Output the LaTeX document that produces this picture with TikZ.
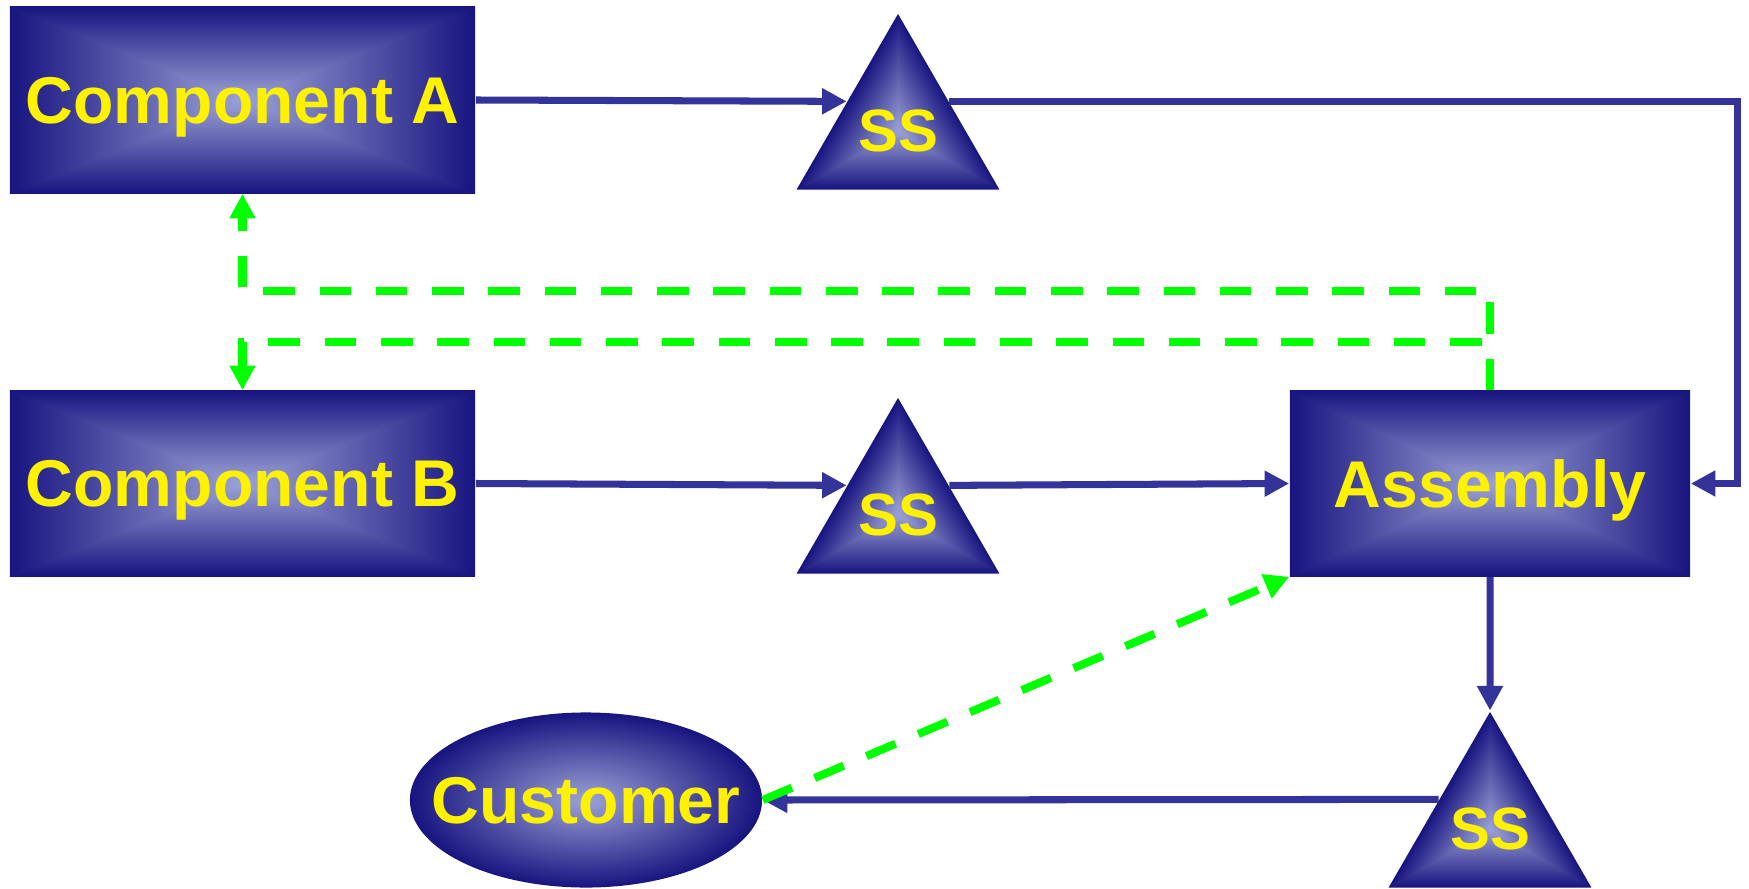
\documentclass[tikz,border=0pt]{standalone}
\usepackage{fontspec}
\setmainfont{Liberation Sans}
\usepackage{xcolor}
\usepackage{tikz}
\usetikzlibrary{positioning,arrows.meta,shapes.geometric}

\definecolor{lineblue}{RGB}{51,51,153}

\pgfdeclarefunctionalshading{rectglow}{\pgfpoint{-50bp}{-50bp}}{\pgfpoint{50bp}{50bp}}{}{
	abs 25 div exch abs 25 div
	2 copy lt {exch} if pop
	dup 1 gt {pop 1} if
	dup dup
	-0.337 mul 0.839 add 3 1 roll
	-0.557 mul 0.635 add 3 1 roll
	-0.514 mul 0.608 add 3 1 roll
}
\pgfdeclarefunctionalshading{ovalglow}{\pgfpoint{-50bp}{-50bp}}{\pgfpoint{50bp}{50bp}}{}{
	25 div dup mul exch 25 div dup mul add sqrt
	dup 1 gt {pop 1} if
	dup dup
	-0.337 mul 0.839 add 3 1 roll
	-0.557 mul 0.635 add 3 1 roll
	-0.514 mul 0.608 add 3 1 roll
}
\pgfdeclarefunctionalshading{triglow}{\pgfpoint{-50bp}{-50bp}}{\pgfpoint{50bp}{50bp}}{}{
	25 add 50 div exch 25 add 50 div
	2 copy 2 mul exch sub 2 div
	3 1 roll
	2 copy 2 mul add 2 exch sub 2 div
	exch pop
	2 copy gt {exch} if pop
	2 copy gt {exch} if pop
	3 mul 1 exch sub
	dup 1 gt {pop 1} if
	dup 0 lt {pop 0} if
	dup dup
	-0.337 mul 0.839 add 3 1 roll
	-0.557 mul 0.635 add 3 1 roll
	-0.514 mul 0.608 add 3 1 roll
}

\begin{document}
\begin{tikzpicture}[x=0.01cm,y=-0.01cm,
		label text/.style={text=yellow, text depth=0pt, font=\bfseries\fontsize{18.8}{20}\selectfont},
		box/.style={rectangle, shading=rectglow, label text, inner sep=0pt},
		stock/.style={regular polygon, regular polygon sides=3, minimum size=2.34cm, inner sep=0pt, shading=triglow, text=yellow, text depth=0pt, font=\bfseries\fontsize{17}{18}\selectfont},
		flow/.style={draw=lineblue, line width=2pt, -{Triangle[length=7pt,width=7pt]}},
		feedback/.style={draw=green, line width=2.3pt, dash pattern=on 9pt off 7pt, -{Triangle[length=7pt,width=7pt]}}]
			\useasboundingbox (0,0) rectangle (1749,888);
			
			\node[box, minimum width=4.65cm, minimum height=1.86cm] (compA) at (242.5,100) {Component A};
			\node[box, minimum width=4.65cm, minimum height=1.85cm] (compB) at (242.5,483.5) {Component B};
			\node[box, minimum width=4cm, minimum height=1.85cm] (asm) at (1490,483.5) {Assembly};
			\node[ellipse, shading=ovalglow, label text, inner xsep=-0.3cm, inner ysep=0pt, minimum width=3.52cm, minimum height=1.75cm] (cust) at (586,800) {Customer};
			
			\node[stock] (ss1) at (898,131) {SS};
			\node[stock] (ss2) at (898,515) {SS};
			\node[stock] (ss3) at (1490,829) {SS};
			
			\draw[flow] (compA.east) -- (ss1.side 1);
			\draw[flow] (ss1.side 3) -| ([xshift=0.47cm]asm.east) -- (asm.east);
			\draw[flow] (compB.east) -- (ss2.side 1);
			\draw[flow] (ss2.side 3) -- (asm.west);
			\draw[flow] (asm.south) -- (ss3.north);
			\draw[flow] (ss3.side 1) -- (cust.east);
			
			\draw[feedback] (asm.north) -- ++(0,-99) -| (compA.south);
			\draw[feedback] (asm.north) -- ++(0,-48) -| (compB.north);
			\draw[feedback] (cust.east) -- (asm.south west);
		\end{tikzpicture}
\end{document}
